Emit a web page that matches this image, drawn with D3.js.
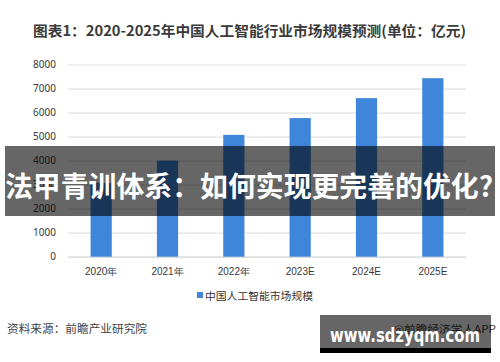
<!DOCTYPE html>
<html><head><meta charset="utf-8">
<script src="https://cdn.jsdelivr.net/npm/d3@7"></script>
<style>
html,body{margin:0;padding:0;background:#fff;}
svg{display:block;font-family:"Noto Sans CJK SC","Noto Sans",sans-serif;}
</style></head>
<body>
<svg id="c" width="500" height="362"></svg>
<script>
const categories = ["2020年","2021年","2022年","2023E","2024E","2025E"];
const values = [3070, 4000, 5070, 5770, 6600, 7430];
const yTicks = [0,1000,2000,3000,4000,5000,6000,7000,8000];
const title = "图表1：2020-2025年中国人工智能行业市场规模预测(单位：亿元)";
const legendLabel = "中国人工智能市场规模";
const source = "资料来源：前瞻产业研究院";
const credit = "@前瞻经济学人APP";
const overlayText = "法甲青训体系：如何实现更完善的优化?";
const siteText = "www.sdzyqm.com";

const svg = d3.select("#c");
const x = d3.scaleBand().domain(categories).range([68,466]).paddingInner(0.68).paddingOuter(0.34);
const y = d3.scaleLinear().domain([0,8000]).range([256.7,64.5]);

// title
svg.append("text").attr("x",33).attr("y",35.5)
  .attr("font-size",14).attr("font-weight","bold").attr("fill","#3a3a3a")
  .attr("textLength",433).attr("lengthAdjust","spacingAndGlyphs").text(title);

// grid
const yAxis = svg.append("g").attr("transform","translate(68,0)")
  .call(d3.axisLeft(y).tickValues(yTicks).tickSize(-398).tickFormat(d3.format("d")).tickPadding(12));
yAxis.select(".domain").remove();
yAxis.selectAll(".tick line").attr("stroke",d=>d===0?"#d0d0d0":"#e2e2e2").attr("stroke-width",1.2);
yAxis.selectAll(".tick text").attr("font-size",10).attr("fill","#383838").attr("font-family","'Noto Sans','Noto Sans CJK SC',sans-serif");

// bars
svg.append("g").selectAll("rect").data(values).join("rect")
  .attr("x",(d,i)=>x(categories[i])).attr("width",x.bandwidth())
  .attr("y",d=>y(d)).attr("height",d=>y(0)-y(d)).attr("fill","#3f86da");

// x labels
const xAxis = svg.append("g").attr("transform","translate(0,256.7)")
  .call(d3.axisBottom(x).tickSize(0).tickPadding(11));
xAxis.select(".domain").remove();
xAxis.selectAll(".tick text").attr("font-size",10).attr("fill","#383838");

// legend
svg.append("rect").attr("x",197).attr("y",292).attr("width",6).attr("height",6).attr("fill","#3f86da");
svg.append("text").attr("x",205).attr("y",299.5).attr("font-size",10.5).attr("fill","#333")
  .attr("textLength",108).attr("lengthAdjust","spacingAndGlyphs").text(legendLabel);

// source
svg.append("text").attr("x",7).attr("y",333).attr("font-size",11).attr("fill","#404040")
  .attr("textLength",140).attr("lengthAdjust","spacingAndGlyphs").text(source);
svg.append("text").attr("x",393).attr("y",332.5).attr("font-size",10.5).attr("fill","#404040")
  .attr("textLength",103).attr("lengthAdjust","spacingAndGlyphs").text(credit);

// overlay banner
svg.append("rect").attr("x",5).attr("y",146).attr("width",490).attr("height",70).attr("fill","rgba(0,0,0,0.6)");
svg.append("text").attr("x",5).attr("y",197).attr("font-size",28).attr("font-weight","bold")
  .attr("fill","#fff").attr("textLength",488).attr("lengthAdjust","spacingAndGlyphs").text(overlayText);

// bottom-right site box
svg.append("rect").attr("x",320).attr("y",315).attr("width",171).attr("height",33).attr("fill","rgba(0,0,0,0.6)");
svg.append("rect").attr("x",320).attr("y",348).attr("width",171).attr("height",5).attr("fill","#000");
svg.append("text").attr("x",330).attr("y",342).attr("font-size",20).attr("font-weight","bold")
  .attr("font-family","'DejaVu Sans',sans-serif").attr("fill","#fff")
  .attr("textLength",150).attr("lengthAdjust","spacingAndGlyphs").text(siteText);
</script>
</body></html>
